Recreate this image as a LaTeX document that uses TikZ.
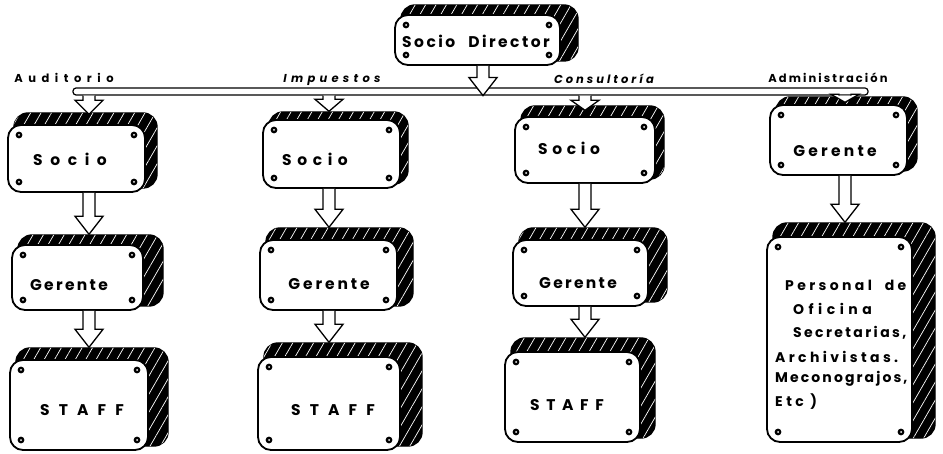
\documentclass[tikz,border=0pt]{standalone}
\usepackage{fontspec}
\setmainfont{Poppins}
\usetikzlibrary{calc,patterns.meta}

\tikzset{
  x=1pt, y=-1pt,
  panelback/.style={draw=black, line width=1.4pt, fill=black, rounded corners=14pt, inner sep=0pt,
    postaction={pattern={Lines[angle=60,distance=9pt,line width=0.7pt]}, pattern color=white}},
  face/.style={draw=black, line width=1.8pt, fill=white, rounded corners=13pt, inner sep=0pt},
  screw/.style={fill=black},
  blockarrow/.style={draw=black, line width=1.3pt, fill=white, line join=miter},
  bar/.style={draw=black, line width=1.2pt, fill=white, rounded corners=3pt, inner sep=0pt},
  boxtext/.style={font=\fontsize{15.5}{17}\selectfont\bfseries, inner sep=0pt},
  listtext/.style={font=\fontsize{14}{16}\selectfont\bfseries, inner sep=0pt, anchor=west},
  headtext/.style={font=\fontsize{11.5}{13}\selectfont\bfseries, inner sep=0pt},
  slanthead/.style={font=\fontsize{11.5}{13}\selectfont\bfseries\itshape, inner sep=0pt},
}

% letter-spaced text stretched to a given width (in pt)
\newlength\natwa
\newlength\natwb
\newcommand\fitto[2]{%
  \settowidth\natwa{#2}%
  \settowidth\natwb{\addfontfeature{LetterSpace=20}#2}%
  \pgfmathtruncatemacro\lsp{20*((#1)-\natwa/1pt)/((\natwb-\natwa)/1pt)}%
  \addfontfeature{LetterSpace=\lsp}#2}
\newcommand\wgap{\hspace{13pt}}

% one box: name, face x1, y1, x2, y2, top of the raised band, right edge of the raised side
\newcommand\panel[7]{%
  \node[panelback, minimum width={(#7-#2-6)*1pt}, minimum height={(#5-4-#6)*1pt}]
    (#1-b) at ({(#2+6+#7)/2},{(#6+#5-4)/2}) {};
  \node[face, minimum width={(#4-#2)*1pt}, minimum height={(#5-#3)*1pt}]
    (#1) at ({(#2+#4)/2},{(#3+#5)/2}) {};
  \foreach \sx/\sy in {#2+11/#3+10, #4-11/#3+10, #2+11/#5-10, #4-11/#5-10}{
    \fill[screw] (\sx,\sy) circle (3.4pt);
    \fill[white] (\sx,\sy) circle (1pt);
  }
}

% hollow block arrow: optional head length, start point, tip point
\newcommand\blockarrow[3][18]{%
  \draw[blockarrow] let \p1=#2, \p2=#3 in
    (\x1-6pt,\y1) -- (\x1-6pt,\y2+#1pt) -- (\x1-14pt,\y2+#1pt) -- (\x1,\y2)
    -- (\x1+14pt,\y2+#1pt) -- (\x1+6pt,\y2+#1pt) -- (\x1+6pt,\y1);
}

\begin{document}
\begin{tikzpicture}
\useasboundingbox (0,0) rectangle (943,454);

% arrow axes of the columns
\coordinate (axd) at (483,0);
\coordinate (ax1) at (89,0);
\coordinate (ax2) at (329,0);
\coordinate (ax3) at (585,0);
\coordinate (ax4) at (845,0);

% top box
\panel{sd}{395}{15}{560}{65}{5}{578}
\node[boxtext] (sd-l) at (476,41) {\fitto{148}{Socio\wgap Director}};

% distribution bar
\node[bar, minimum width=795pt, minimum height=7pt] (bar) at (470.5,91.5) {};

% department headings
\node[headtext] (h1) at (64,78) {\fitto{100}{Auditorio}};
\node[slanthead] (h2) at (332,80) {\fitto{98}{Impuestos}};
\node[slanthead] (h3) at (604,79) {\fitto{100}{Consultoría}};
\node[headtext] (h4) at (828,78) {\fitto{120}{Administración}};

% Auditorio
\panel{c1s}{8}{125}{145}{192}{113}{157}
\panel{c1g}{12}{245}{143}{310}{235}{163}
\panel{c1f}{10}{360}{148}{450}{348}{168}
\node[boxtext] (c1s-l) at (70,159) {\fitto{74}{Socio}};
\node[boxtext] (c1g-l) at (69,285) {\fitto{78}{Gerente}};
\node[boxtext] (c1f-l) at (82,410) {\fitto{84}{STAFF}};

% Impuestos
\panel{c2s}{263}{120}{400}{188}{112}{408}
\panel{c2g}{260}{240}{397}{310}{228}{413}
\panel{c2f}{258}{357}{400}{450}{343}{422}
\node[boxtext] (c2s-l) at (315,159) {\fitto{66}{Socio}};
\node[boxtext] (c2g-l) at (329,284) {\fitto{82}{Gerente}};
\node[boxtext] (c2f-l) at (333,410) {\fitto{84}{STAFF}};

% Consultoria
\panel{c3s}{515}{117}{655}{183}{106}{664}
\panel{c3g}{513}{240}{648}{306}{228}{667}
\panel{c3f}{505}{352}{640}{442}{338}{655}
\node[boxtext] (c3s-l) at (569,148) {\fitto{62}{Socio}};
\node[boxtext] (c3g-l) at (578,283) {\fitto{78}{Gerente}};
\node[boxtext] (c3f-l) at (567,405) {\fitto{74}{STAFF}};

% Administracion
\panel{c4g}{770}{105}{907}{175}{97}{917}
\panel{c4p}{767}{237}{912}{442}{223}{935}
\node[boxtext] (c4g-l) at (835,151) {\fitto{84}{Gerente}};
\node[listtext] (p1) at (785,285) {\fitto{122}{Personal\wgap de}};
\node[listtext] (p2) at (793,309) {\fitto{79}{Oficina}};
\node[listtext] (p3) at (793,333) {\fitto{114}{Secretarias,}};
\node[listtext] (p4) at (775,357) {\fitto{124}{Archivistas.}};
\node[listtext] (p5) at (775,379) {\fitto{133}{Meconograjos,}};
\node[listtext] (p6) at (775,402) {\fitto{42}{Etc )}};

% arrows
\blockarrow{(sd.south -| axd)}{(bar.south -| axd)}
\blockarrow[14]{(bar.south -| ax1)}{($(c1s-b.north -| ax1)+(0,2)$)}
\blockarrow[12]{(bar.south -| ax2)}{(c2s-b.north -| ax2)}
\blockarrow[10]{(bar.south -| ax3)}{($(c3s-b.north -| ax3)+(0,5)$)}
\blockarrow[8]{(bar.south -| ax4)}{($(c4g-b.north -| ax4)+(0,6)$)}
\blockarrow{(c1s.south -| ax1)}{(c1g-b.north -| ax1)}
\blockarrow{(c1g.south -| ax1)}{(c1f-b.north -| ax1)}
\blockarrow{(c2s.south -| ax2)}{(c2g-b.north -| ax2)}
\blockarrow{(c2g.south -| ax2)}{(c2f-b.north -| ax2)}
\blockarrow{(c3s.south -| ax3)}{(c3g-b.north -| ax3)}
\blockarrow{(c3g.south -| ax3)}{(c3f-b.north -| ax3)}
\blockarrow{(c4g.south -| ax4)}{(c4p-b.north -| ax4)}
\end{tikzpicture}
\end{document}
